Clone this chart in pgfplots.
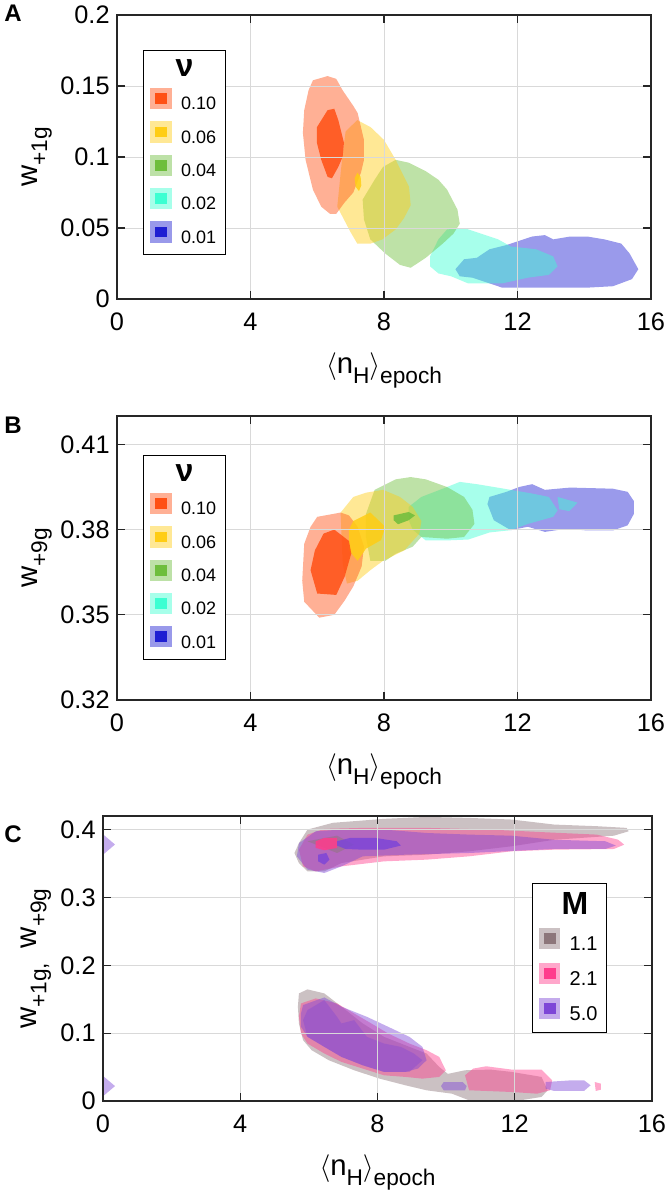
\documentclass[border=0pt]{standalone}
\usepackage{fontspec}
\setmainfont{Liberation Sans}
\usepackage{pgfplots}
\pgfplotsset{compat=1.18}

% nu colours (panels A, B)
\definecolor{nuA}{RGB}{255,80,20}
\definecolor{nuB}{RGB}{255,205,20}
\definecolor{nuC}{RGB}{110,190,60}
\definecolor{nuD}{RGB}{60,255,210}
\definecolor{nuE}{RGB}{30,30,210}
% M colours (panel C)
\definecolor{mA}{RGB}{140,118,122}
\definecolor{mB}{RGB}{255,60,140}
\definecolor{mC}{RGB}{125,70,215}

\newcommand{\sub}[1]{\raisebox{-7.5pt}{\fontsize{17}{17}\selectfont #1}}
\newcommand{\nH}{$\langle$n\sub{H}$\rangle$\sub{epoch}}

\pgfplotsset{
  outer/.style={fill=#1, fill opacity=0.45, draw=none, forget plot},
  inner/.style={fill=#1, fill opacity=0.85, draw=none, forget plot},
  patch/.style={legend image code/.code={
      \fill[#1, fill opacity=0.45, draw=none] (0pt,-3.5pt) rectangle (16pt,12.5pt);
      \fill[#1, draw=none] (3.5pt,0.5pt) rectangle (12.5pt,8.5pt);}},
  panel/.style={
    scale only axis, anchor=north west,
    xmin=0, xmax=16, xtick={0,4,8,12,16},
    grid=major, major grid style={black!15, line width=0.6pt},
    axis line style={black!85, line width=0.9pt},
    tick style={black!85, line width=0.9pt},
    tick align=inside, major tick length=6pt,
    axis on top,
    /pgf/number format/assume math mode=true,
    yticklabel style={/pgf/number format/fixed, /pgf/number format/precision=2, xshift=-2pt},
    xticklabel style={yshift=-7pt},
    tick label style={font=\fontsize{19}{19}\selectfont},
    label style={font=\fontsize{22}{22}\selectfont},
    xlabel={\nH},
    xlabel style={at={(axis description cs:0.5,0)}, anchor=base, yshift=-56pt},
    legend cell align=left,
    legend style={draw=black, line width=0.8pt, fill=white,
      font=\fontsize{13.5}{13.5}\selectfont, row sep=5pt,
      inner xsep=5pt, inner ysep=5pt,
      /tikz/every odd column/.append style={column sep=5pt}},
  },
}

\begin{document}
\begin{tikzpicture}
\useasboundingbox (0,0) rectangle (499.5pt,-897pt);

% ---------------- A ----------------
\begin{axis}[panel, at={(87.75pt,-11.25pt)}, width=400.5pt, height=213pt,
  ymin=0, ymax=0.2, ytick={0,0.05,0.1,0.15,0.2},
  ylabel={w\sub{+1g}},
  ylabel style={at={(axis description cs:-0.1498,0.5)}, anchor=base},
  legend style={at={(0.049,0.877)}, anchor=north west}]
\addplot[outer=nuE] coordinates {(10.14,0.021) (10.40,0.028) (10.78,0.029) (11.16,0.035) (11.67,0.038) (12.44,0.044) (12.82,0.045) (13.07,0.042) (13.58,0.044) (14.09,0.044) (14.60,0.042) (15.11,0.039) (15.36,0.032) (15.62,0.021) (15.43,0.014) (14.86,0.009) (14.09,0.008) (13.07,0.008) (12.18,0.008) (11.54,0.008) (11.16,0.011) (10.65,0.015) (10.27,0.016)} -- cycle;
\addplot[outer=nuD] coordinates {(9.38,0.030) (9.63,0.042) (9.89,0.049) (10.40,0.050) (10.91,0.046) (11.42,0.042) (11.80,0.037) (12.56,0.035) (13.07,0.030) (13.20,0.023) (12.94,0.017) (12.31,0.015) (11.54,0.011) (10.52,0.011) (10.01,0.016) (9.63,0.018) (9.38,0.023)} -- cycle;
\addplot[outer=nuC] coordinates {(7.72,0.084) (7.97,0.093) (8.35,0.098) (8.74,0.096) (9.25,0.090) (9.63,0.084) (9.89,0.077) (10.20,0.063) (10.27,0.053) (10.08,0.046) (9.76,0.039) (9.25,0.029) (8.80,0.022) (8.48,0.024) (8.04,0.032) (7.59,0.042) (7.40,0.056) (7.36,0.070)} -- cycle;
\addplot[outer=nuB] coordinates {(6.6,0.065) (6.75,0.100) (6.85,0.118) (7.2,0.126) (7.6,0.121) (8.0,0.112) (8.35,0.098) (8.75,0.079) (8.8,0.066) (8.6,0.057) (8.35,0.049) (7.95,0.042) (7.6,0.039) (7.2,0.039) (7.0,0.047) (6.8,0.056)} -- cycle;
\addplot[outer=nuA] coordinates {(5.87,0.154) (6.31,0.157) (6.57,0.155) (6.76,0.147) (7.08,0.136) (7.21,0.131) (7.40,0.112) (7.40,0.098) (7.31,0.089) (7.08,0.075) (6.82,0.068) (6.57,0.060) (6.38,0.060) (6.12,0.065) (5.87,0.077) (5.65,0.098) (5.57,0.117) (5.61,0.133) (5.74,0.147)} -- cycle;
\addplot[inner=nuA] coordinates {(5.99,0.121) (6.31,0.133) (6.51,0.134) (6.63,0.126) (6.80,0.110) (6.76,0.100) (6.63,0.093) (6.44,0.085) (6.31,0.086) (6.12,0.098) (5.99,0.110)} -- cycle;
\addplot[inner=nuB] coordinates {(7.2,0.089) (7.3,0.086) (7.32,0.080) (7.25,0.076) (7.15,0.079) (7.12,0.085)} -- cycle;
\addlegendimage{empty legend}\addlegendentry{\hspace{-4pt}\fontsize{24}{24}\selectfont\bfseries ν}
\addlegendimage{patch=nuA}\addlegendentry{0.10}
\addlegendimage{patch=nuB}\addlegendentry{0.06}
\addlegendimage{patch=nuC}\addlegendentry{0.04}
\addlegendimage{patch=nuD}\addlegendentry{0.02}
\addlegendimage{patch=nuE}\addlegendentry{0.01}
\end{axis}

% ---------------- B ----------------
\begin{axis}[panel, at={(87.75pt,-312pt)}, width=400.5pt, height=213pt,
  ymin=0.32, ymax=0.42, ytick={0.32,0.35,0.38,0.41},
  ylabel={w\sub{+9g}},
  ylabel style={at={(axis description cs:-0.1498,0.5)}, anchor=base},
  legend style={at={(0.049,0.863)}, anchor=north west}]
\addplot[outer=nuE] coordinates {(11.16,0.3915) (11.67,0.3933) (12.05,0.395) (12.44,0.396) (12.82,0.394) (13.20,0.3944) (13.58,0.3948) (14.86,0.3944) (15.30,0.3933) (15.49,0.390) (15.49,0.3856) (15.30,0.3815) (14.86,0.3797) (14.09,0.3797) (13.46,0.3803) (12.82,0.3792) (12.31,0.381) (11.80,0.3798) (11.29,0.3833) (11.10,0.389)} -- cycle;
\addplot[outer=nuD] coordinates {(8.74,0.388) (9.12,0.3915) (9.76,0.3944) (10.27,0.3968) (10.78,0.396) (11.29,0.395) (11.80,0.394) (12.44,0.3927) (12.94,0.3915) (13.20,0.3868) (13.07,0.3845) (12.31,0.382) (11.80,0.3798) (11.16,0.379) (10.52,0.3765) (9.89,0.3762) (9.25,0.3762) (8.86,0.380) (8.74,0.3833)} -- cycle;
\addplot[outer=nuD] coordinates {(13.2,0.3915) (13.5,0.3905) (13.8,0.3895) (13.55,0.3865) (13.25,0.3872)} -- cycle;
\addplot[outer=nuC] coordinates {(7.72,0.394) (8.35,0.3977) (8.80,0.3985) (9.25,0.3977) (9.89,0.395) (10.40,0.3915) (10.65,0.387) (10.71,0.382) (10.40,0.3774) (9.89,0.3768) (9.12,0.3774) (8.86,0.374) (8.35,0.3715) (8.04,0.369) (7.59,0.369) (7.46,0.3774) (7.46,0.3855)} -- cycle;
\addplot[outer=nuB] coordinates {(6.70,0.386) (7.08,0.3915) (7.46,0.393) (7.97,0.394) (8.48,0.3915) (8.86,0.388) (9.12,0.383) (9.06,0.3786) (8.61,0.3727) (7.97,0.369) (7.59,0.3657) (7.21,0.362) (6.89,0.361) (6.76,0.368)} -- cycle;
\addplot[outer=nuA] coordinates {(6.0,0.3845) (6.70,0.386) (6.95,0.385) (7.21,0.381) (7.40,0.374) (7.33,0.367) (7.08,0.360) (6.82,0.355) (6.51,0.350) (6.06,0.349) (5.61,0.3546) (5.55,0.362) (5.61,0.375) (5.80,0.381)} -- cycle;
\addplot[inner=nuB] coordinates {(7.08,0.383) (7.59,0.386) (8.04,0.381) (7.91,0.3763) (7.46,0.3733) (7.21,0.369) (6.95,0.3727) (6.95,0.380)} -- cycle;
\addplot[inner=nuC] coordinates {(8.29,0.385) (8.74,0.3862) (8.93,0.385) (8.74,0.3833) (8.42,0.3819) (8.29,0.3833)} -- cycle;
\addplot[inner=nuA] coordinates {(6.19,0.3786) (6.51,0.380) (6.95,0.376) (7.02,0.3716) (6.82,0.3634) (6.57,0.357) (6.0,0.3575) (5.80,0.3657) (5.93,0.3727)} -- cycle;
\addlegendimage{empty legend}\addlegendentry{\hspace{-4pt}\fontsize{24}{24}\selectfont\bfseries ν}
\addlegendimage{patch=nuA}\addlegendentry{0.10}
\addlegendimage{patch=nuB}\addlegendentry{0.06}
\addlegendimage{patch=nuC}\addlegendentry{0.04}
\addlegendimage{patch=nuD}\addlegendentry{0.02}
\addlegendimage{patch=nuE}\addlegendentry{0.01}
\end{axis}

% ---------------- C ----------------
\begin{axis}[panel, at={(77.25pt,-612pt)}, width=411.75pt, height=213.75pt,
  ymin=0, ymax=0.42, ytick={0,0.1,0.2,0.3,0.4},
  ylabel={w\sub{+1g,}\hspace{0.5em}w\sub{+9g}},
  ylabel style={at={(axis description cs:-0.1214,0.5)}, anchor=base},
  legend style={at={(0.781,0.765)}, anchor=north west,
    font=\fontsize{15}{15}\selectfont, row sep=6pt}]
% upper group (w+9g)
\addplot[outer=mA] coordinates {(5.71,0.380) (5.96,0.400) (6.70,0.410) (8.19,0.4158) (9.43,0.4187) (10.67,0.4172) (11.91,0.4148) (13.15,0.4074) (14.39,0.405) (15.26,0.4025) (15.32,0.3975) (14.89,0.391) (13.15,0.385) (11.91,0.3754) (10.67,0.368) (9.43,0.363) (8.19,0.3606) (6.95,0.3507) (6.45,0.3384) (5.96,0.3384) (5.71,0.3507) (5.58,0.3655)} -- cycle;
\addplot[outer=mB] coordinates {(5.71,0.3704) (5.96,0.3926) (6.45,0.401) (7.57,0.4025) (9.43,0.4025) (11.29,0.400) (12.90,0.396) (14.39,0.3926) (15.01,0.3852) (15.19,0.3778) (14.89,0.3714) (13.15,0.3704) (11.91,0.368) (10.67,0.3606) (9.43,0.3557) (8.19,0.3532) (6.95,0.3458) (6.20,0.3384) (5.83,0.3458)} -- cycle;
\addplot[outer=mC] coordinates {(5.65,0.3606) (5.71,0.380) (6.20,0.3975) (6.95,0.400) (8.19,0.400) (9.43,0.395) (10.67,0.3926) (11.91,0.391) (13.15,0.385) (14.64,0.3828) (14.95,0.3764) (14.64,0.3714) (13.15,0.3714) (10.67,0.3655) (8.81,0.363) (7.57,0.3606) (6.95,0.3458) (6.45,0.336) (5.96,0.341)} -- cycle;
\addplot[outer=mC] coordinates {(-0.35,0.378) (0,0.393) (0.35,0.378) (0,0.363)} -- cycle;
% lower group (w+1g)
\addplot[outer=mA] coordinates {(5.71,0.1586) (5.96,0.1645) (6.45,0.1586) (6.95,0.139) (7.57,0.1143) (8.19,0.0946) (8.93,0.0798) (9.43,0.070) (9.80,0.0502) (10.05,0.040) (10.55,0.0453) (11.29,0.0463) (11.91,0.0429) (12.78,0.0355) (12.96,0.0158) (12.78,0.006) (12.16,0.001) (11.79,-0.004) (11.41,-0.004) (10.67,0.001) (10.17,0.0108) (9.43,0.0158) (8.81,0.0232) (8.06,0.033) (7.32,0.0453) (6.58,0.0601) (6.08,0.0749) (5.83,0.0897) (5.71,0.1143) (5.68,0.139)} -- cycle;
\addplot[outer=mB] coordinates {(5.71,0.1241) (5.77,0.1438) (6.20,0.1512) (6.82,0.1438) (7.32,0.129) (7.82,0.1143) (8.31,0.0995) (8.93,0.0847) (9.43,0.0749) (9.80,0.065) (9.99,0.0453) (9.80,0.0355) (9.31,0.033) (8.81,0.0355) (8.19,0.0379) (7.57,0.0478) (6.95,0.0576) (6.45,0.070) (5.96,0.0847) (5.77,0.0995)} -- cycle;
\addplot[outer=mB] coordinates {(10.55,0.038) (10.79,0.0478) (11.17,0.0512) (11.91,0.0463) (12.78,0.0463) (13.09,0.0305) (13.03,0.0158) (12.65,0.0108) (11.91,0.0133) (10.67,0.0158)} -- cycle;
\addplot[outer=mB] coordinates {(14.33,0.028) (14.51,0.0256) (14.51,0.0167) (14.36,0.0148)} -- cycle;
\addplot[outer=mC] coordinates {(5.77,0.129) (5.83,0.1414) (6.45,0.1527) (6.95,0.139) (7.69,0.1241) (8.31,0.1094) (8.93,0.0946) (9.31,0.0798) (9.43,0.0601) (9.18,0.0478) (8.81,0.0429) (8.19,0.0429) (7.57,0.0527) (6.95,0.065) (6.45,0.0798) (5.96,0.0946) (5.77,0.1094)} -- cycle;
\addplot[outer=mC] coordinates {(9.93,0.028) (10.48,0.028) (10.6,0.022) (10.55,0.0158) (9.93,0.0158) (9.85,0.022)} -- cycle;
\addplot[outer=mC] coordinates {(12.90,0.028) (13.65,0.0305) (14.02,0.0305) (14.21,0.0232) (14.02,0.0148) (13.15,0.0148) (12.90,0.0182)} -- cycle;
\addplot[outer=mC] coordinates {(-0.35,0.022) (0,0.037) (0.35,0.022) (0,0.007)} -- cycle;
% inner regions
\addplot[inner=mC, fill opacity=0.35] coordinates {(6.45,0.1488) (6.82,0.1241) (6.95,0.1143) (7.32,0.1192) (7.69,0.0946) (8.19,0.0847) (8.68,0.0798) (9.06,0.070) (9.31,0.0601) (8.93,0.0429) (8.19,0.0429) (7.57,0.0527) (6.95,0.065) (6.45,0.0798) (5.96,0.0946) (5.83,0.1192) (5.96,0.1340)} -- cycle;
\addplot[inner=mA, fill opacity=0.5] coordinates {(5.96,0.3828) (6.82,0.391) (7.32,0.3778) (6.82,0.3655)} -- cycle;
\addplot[inner=mB] coordinates {(6.20,0.3828) (6.45,0.3877) (6.82,0.3877) (6.82,0.373) (6.45,0.3695) (6.20,0.373)} -- cycle;
\addplot[inner=mC] coordinates {(6.82,0.3828) (7.20,0.3877) (7.94,0.3877) (8.56,0.3828) (8.68,0.3764) (8.19,0.3704) (7.57,0.3704) (7.07,0.3714) (6.82,0.3764)} -- cycle;
\addplot[inner=mC] coordinates {(6.27,0.363) (6.51,0.3655) (6.60,0.3557) (6.45,0.3483) (6.27,0.3532)} -- cycle;
\addlegendimage{empty legend}\addlegendentry{\hspace{-6pt}\fontsize{24}{24}\selectfont\bfseries M}
\addlegendimage{patch=mA}\addlegendentry{1.1}
\addlegendimage{patch=mB}\addlegendentry{2.1}
\addlegendimage{patch=mC}\addlegendentry{5.0}
\end{axis}

\node[anchor=north west, inner sep=0pt, font=\bfseries\fontsize{18}{18}\selectfont] at (3pt,-3.75pt) {A};
\node[anchor=north west, inner sep=0pt, font=\bfseries\fontsize{18}{18}\selectfont] at (3pt,-312.75pt) {B};
\node[anchor=north west, inner sep=0pt, font=\bfseries\fontsize{18}{18}\selectfont] at (3pt,-618.75pt) {C};
\end{tikzpicture}
\end{document}
